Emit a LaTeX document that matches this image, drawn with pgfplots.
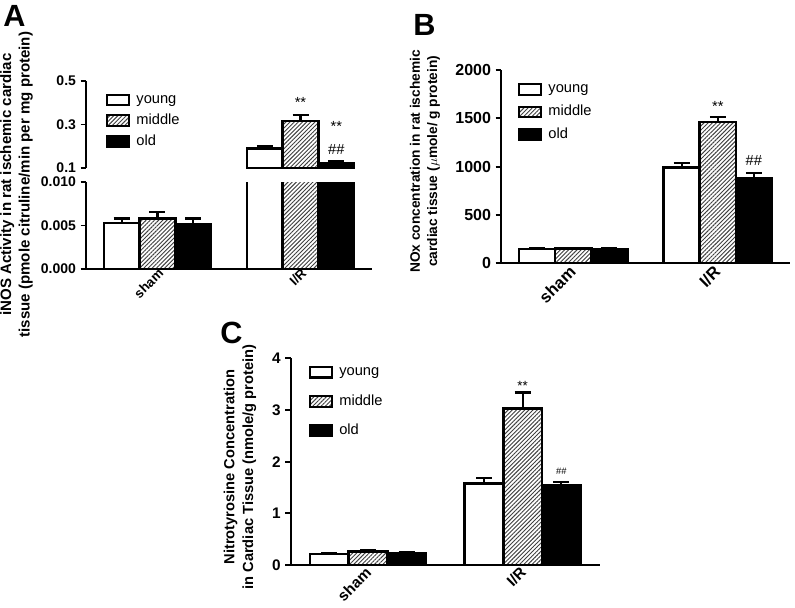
\documentclass[border=0pt]{standalone}
\usepackage{pgfplots}
\pgfplotsset{compat=1.18}
\usepackage{fontspec}
\setmainfont{Liberation Sans}
\usetikzlibrary{patterns.meta}

\pgfplotsset{
  mybase/.style={
    scale only axis,
    xmin=-0.5, xmax=1.5,
    xtick={0,1}, xticklabels={sham, I/R},
    scaled y ticks=false,
    tick align=outside,
    major tick length=4pt,
    axis line style={line width=1.4pt},
    every tick/.style={line width=1.4pt, black},
    xtick style={draw=none},
    tick label style={font=\bfseries\fontsize{#1}{#1}\selectfont},
    axis x line*=bottom, axis y line*=left,
    legend cell align=left,
    ylabel style={align=center, anchor=center},
  },
  xlab/.style 2 args={xticklabel style={rotate=45, anchor=east, xshift=#2, font=\bfseries\fontsize{#1}{#1}\selectfont}},
  mylegend/.style={legend style={draw=none, fill=none, inner sep=0pt, anchor=north west,
      font=\fontsize{11}{13}\selectfont, row sep=#1, column sep=4pt,
      nodes={inner sep=1pt, text height=8pt, text depth=2.5pt}}},
  barbase/.style={ybar, bar width=0.25, bar shift=0pt, draw=black, line width=1.8pt,
    error bars/y dir=plus, error bars/y explicit,
    error bars/error bar style={line width=1.6pt, black},
    error bars/error mark options={rotate=90, mark size=6pt, line width=1.6pt, black},
    legend image code/.code={\draw[##1, line width=1.6pt] (0pt,-4pt) rectangle (16pt,4pt);}},
  young/.style={barbase, fill=white},
  middle/.style={barbase, fill=white, postaction={pattern={Lines[angle=45,distance=2.2pt,line width=0.7pt]}, pattern color=black!75}},
  old/.style={barbase, fill=black},
}

\begin{document}
\begin{tikzpicture}
\useasboundingbox (0,0) rectangle (596.25pt,-455.25pt);

% ---------------- Panel A: lower part ----------------
\begin{axis}[mybase=10.5, xlab={10}{7pt}, at={(64.5pt,-201.75pt)}, anchor=south west,
  width=214.5pt, height=65.25pt,
  ymin=0, ymax=0.010, ytick={0,0.005,0.010}, yticklabels={0.000,0.005,0.010},
  ylabel={iNOS Activity in rat ischemic cardiac\\tissue (pmole citruline/min per mg protein)},
  ylabel style={at={(axis description cs:-0.243,0.97)}, font=\bfseries\fontsize{11.3}{14}\selectfont},
]
\addplot[young] coordinates {(-0.25,0.0053) +- (0,0.0005) (0.75,0.19) +- (0,0.012)};
\addplot[middle] coordinates {(0,0.0058) +- (0,0.0008) (1,0.315) +- (0,0.03)};
\addplot[old] coordinates {(0.25,0.0052) +- (0,0.0006) (1.25,0.12) +- (0,0.013)};
\end{axis}

% ---------------- Panel A: upper part ----------------
\begin{axis}[mybase=10.5, at={(64.5pt,-126pt)}, anchor=south west,
  width=214.5pt, height=65.25pt,
  axis x line=none,
  ymin=0.1, ymax=0.5, ytick={0.1,0.3,0.5}, yticklabels={0.1,0.3,0.5},
  mylegend=3pt, legend style={at={(axis description cs:0.07,0.88)}},
]
\addplot[young] coordinates {(0.75,0.19) +- (0,0.012)};
\addplot[middle] coordinates {(1,0.315) +- (0,0.03)};
\addplot[old] coordinates {(1.25,0.12) +- (0,0.013)};
\legend{young, middle, old}
\node[font=\fontsize{11}{13}\selectfont] at (axis cs:1,0.40) {**};
\node[font=\fontsize{11}{13}\selectfont] at (axis cs:1.25,0.29) {**};
\node[font=\fontsize{11}{13}\selectfont] at (axis cs:1.25,0.185) {\#\#};
\end{axis}

% ---------------- Panel B ----------------
\begin{axis}[mybase=12, xlab={12.5}{3pt}, at={(375.75pt,-197.5pt)}, anchor=south west,
  width=216.75pt, height=145pt,
  ymin=0, ymax=2000, ytick={0,500,1000,1500,2000}, yticklabels={0,500,1000,1500,2000},
  ylabel={NOx concentration in rat ischemic\\cardiac tissue ($\mu$mole/ g protein)},
  ylabel style={at={(axis description cs:-0.263,0.527)}, font=\bfseries\fontsize{10.3}{13}\selectfont},
  mylegend=4.5pt, legend style={at={(axis description cs:0.059,0.945)}},
]
\addplot[young] coordinates {(-0.25,148) +- (0,8) (0.75,990) +- (0,50)};
\addplot[middle] coordinates {(0,152) +- (0,7) (1,1460) +- (0,55)};
\addplot[old] coordinates {(0.25,150) +- (0,7) (1.25,880) +- (0,58)};
\legend{young, middle, old}
\node[font=\fontsize{11}{13}\selectfont] at (axis cs:1,1620) {**};
\node[font=\fontsize{11}{13}\selectfont] at (axis cs:1.25,1065) {\#\#};
\end{axis}

% ---------------- Panel C ----------------
\begin{axis}[mybase=11.5, xlab={11.5}{4pt}, at={(218pt,-423.75pt)}, anchor=south west,
  width=232pt, height=155pt,
  ymin=0, ymax=4, ytick={0,1,2,3,4}, yticklabels={0,1,2,3,4},
  ylabel={Nitrotyrosine Concentration\\in Cardiac Tissue (nmole/g protein)},
  ylabel style={at={(axis description cs:-0.164,0.474)}, font=\bfseries\fontsize{11}{14}\selectfont},
  mylegend=9.5pt, legend style={at={(axis description cs:0.059,0.975)}},
]
\addplot[young] coordinates {(-0.25,0.21) +- (0,0.03) (0.75,1.58) +- (0,0.1)};
\addplot[middle] coordinates {(0,0.26) +- (0,0.03) (1,3.03) +- (0,0.31)};
\addplot[old] coordinates {(0.25,0.23) +- (0,0.015) (1.25,1.54) +- (0,0.07)};
\legend{young, middle, old}
\node[font=\fontsize{10}{12}\selectfont] at (axis cs:1,3.47) {**};
\node[font=\fontsize{7}{8}\selectfont] at (axis cs:1.25,1.82) {\#\#};
\end{axis}

% panel letters
\node[anchor=north west, inner sep=0pt, font=\bfseries\fontsize{23}{25}\selectfont] at (2.25pt,-3.75pt) {A};
\node[anchor=north west, inner sep=0pt, font=\bfseries\fontsize{23}{25}\selectfont] at (309.75pt,-10.5pt) {B};
\node[anchor=north west, inner sep=0pt, font=\bfseries\fontsize{23}{25}\selectfont] at (165pt,-241.5pt) {C};
\end{tikzpicture}
\end{document}
